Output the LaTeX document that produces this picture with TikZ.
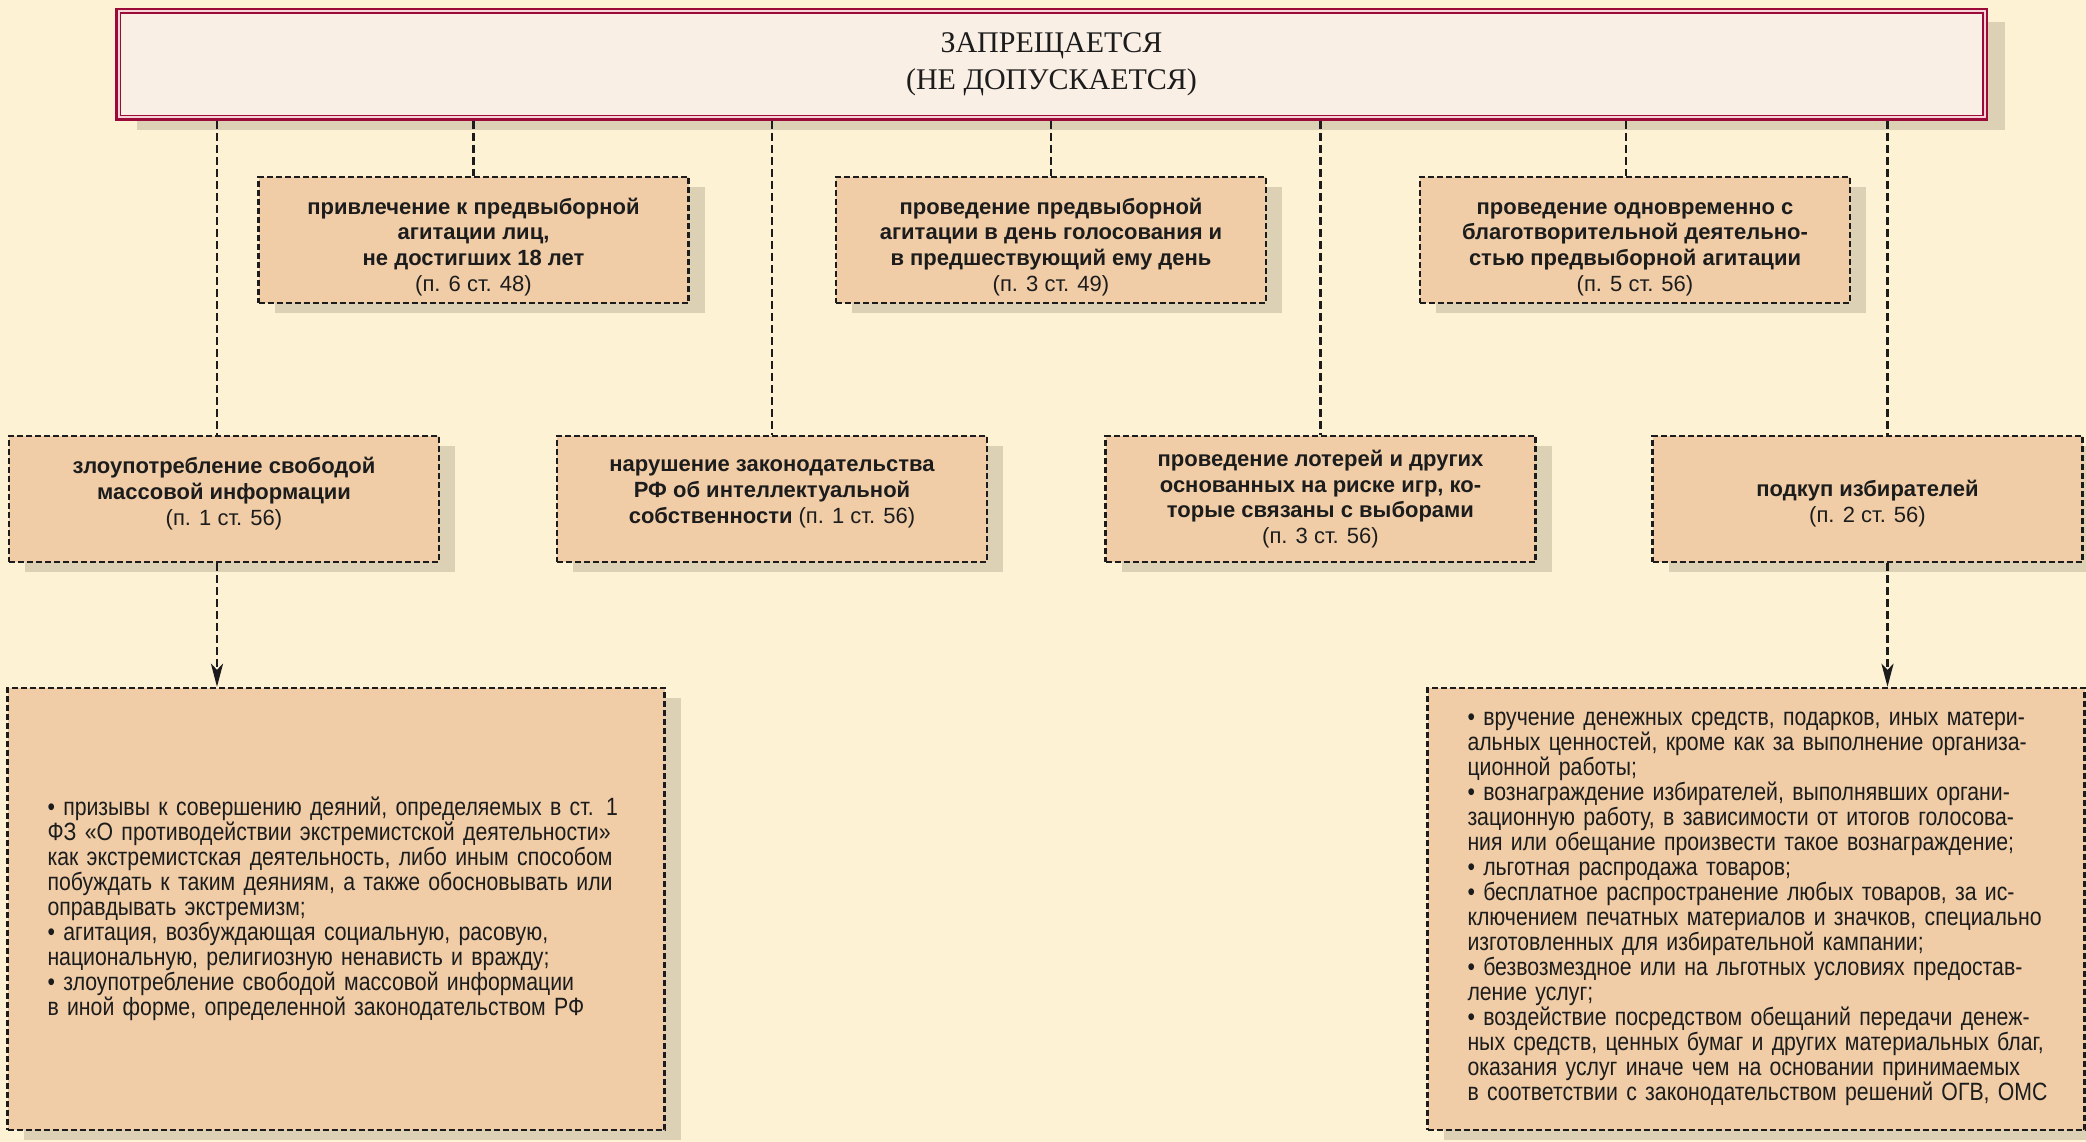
\documentclass[tikz,border=0pt]{standalone}
\usepackage{fontspec}
\setmainfont{Liberation Sans}
\newfontfamily\capsfont{Liberation Serif}
\newfontfamily\narrowfont[FakeStretch=0.85]{Liberation Sans}
\usetikzlibrary{arrows.meta,shadows}

\definecolor{paper}{HTML}{FEF2D4}
\definecolor{boxfill}{HTML}{F0CDA7}
\definecolor{shade}{HTML}{DCD1B4}
\definecolor{banfill}{HTML}{FAEFE5}
\definecolor{crimson}{HTML}{9C0A3A}
\definecolor{blush}{HTML}{F6D3D6}
\definecolor{ink}{HTML}{1C1C1C}

\newcommand{\stref}[1]{\textmd{(#1)}}
\newcommand{\jl}[1]{\makebox[577pt][s]{#1}}

\tikzset{
  banbox/.style={draw=crimson, line width=5pt, fill=banfill, minimum width=1868pt,
    minimum height=108pt, inner sep=0pt, align=center, text=ink,
    font=\capsfont\fontsize{30}{36.7}\selectfont,
    drop shadow={shadow xshift=19pt, shadow yshift=-12pt, fill=shade, opacity=1}},
  itembox/.style={draw=ink, fill=boxfill, line width=2.4pt, dash pattern=on 6pt off 3pt,
    minimum width=430pt, minimum height=126pt, inner sep=0pt, align=center, text=ink,
    font=\bfseries\fontsize{22}{25.8}\selectfont,
    drop shadow={shadow xshift=16pt, shadow yshift=-10pt, fill=shade, opacity=1}},
  listbox/.style={itembox, minimum width=657pt, minimum height=442pt, text width=577pt,
    align=left, font=\narrowfont\fontsize{25}{25}\selectfont},
  link/.style={draw=ink, line width=2.7pt, dash pattern=on 8pt off 4pt},
  feed/.style={link, -{Stealth[length=23pt, width=12pt, inset=6pt]}}
}

\begin{document}
\begin{tikzpicture}[x=1pt,y=-1pt]
\useasboundingbox (0,0) rectangle (2086,1142);
\fill[paper] (0,0) rectangle (2086,1142);

% head
\node[banbox] (ban) at (1051.5,64.5) {ЗАПРЕЩАЕТСЯ\\(НЕ ДОПУСКАЕТСЯ)};
\draw[blush, line width=2pt] ([shift={(3.5,3.5)}]ban.north west) rectangle ([shift={(-3.5,-3.5)}]ban.south east);
\draw[crimson, line width=1.5pt] ([shift={(5.5,5.5)}]ban.north west) rectangle ([shift={(-5.5,-5.5)}]ban.south east);

% first row
\node[itembox] (minors) at (473.5,240) {\rule{0pt}{30pt}привлечение к предвыборной\\агитации лиц,\\не достигших 18 лет\\\stref{п. 6 ст. 48}};
\node[itembox] (pollday) at (1051,240) {\rule{0pt}{30pt}проведение предвыборной\\агитации в день голосования и\\в предшествующий ему день\\\stref{п. 3 ст. 49}};
\node[itembox] (charity) at (1635,240) {\rule{0pt}{30pt}проведение одновременно с\\благотворительной деятельно-\\стью предвыборной агитации\\\stref{п. 5 ст. 56}};

% second row
\node[itembox] (media) at (224,499) {злоупотребление свободой\\массовой информации\\\stref{п. 1 ст. 56}\rule[-15pt]{0pt}{1pt}};
\node[itembox] (ip) at (772,499) {нарушение законодательства\\РФ об интеллектуальной\\собственности \stref{п. 1 ст. 56}\rule[-15pt]{0pt}{1pt}};
\node[itembox] (lottery) at (1320.5,499) {проведение лотерей и других\\основанных на риске игр, ко-\\торые связаны с выборами\\\stref{п. 3 ст. 56}};
\node[itembox] (bribe) at (1867.5,499) {\rule{0pt}{26pt}подкуп избирателей\\\stref{п. 2 ст. 56}};

% lists
\node[listbox] (mediaitems) at (336,909) {%
\jl{• призывы к совершению деяний, определяемых в ст. 1}\\
\jl{ФЗ «О противодействии экстремистской деятельности»}\\
\jl{как экстремистская деятельность, либо иным способом}\\
\jl{побуждать к таким деяниям, а также обосновывать или}\\
оправдывать экстремизм;\\
• агитация, возбуждающая социальную, расовую,\\
национальную, религиозную ненависть и вражду;\\
• злоупотребление свободой массовой информации\\
в иной форме, определенной законодательством РФ};
\node[listbox] (bribeitems) at (1756,909) {%
\jl{• вручение денежных средств, подарков, иных матери-}\\
\jl{альных ценностей, кроме как за выполнение организа-}\\
ционной работы;\\
\jl{• вознаграждение избирателей, выполнявших органи-}\\
\jl{зационную работу, в зависимости от итогов голосова-}\\
ния или обещание произвести такое вознаграждение;\\
• льготная распродажа товаров;\\
\jl{• бесплатное распространение любых товаров, за ис-}\\
\jl{ключением печатных материалов и значков, специально}\\
изготовленных для избирательной кампании;\\
\jl{• безвозмездное или на льготных условиях предостав-}\\
ление услуг;\\
\jl{• воздействие посредством обещаний передачи денеж-}\\
\jl{ных средств, ценных бумаг и других материальных благ,}\\
\jl{оказания услуг иначе чем на основании принимаемых}\\
\mbox{в соответствии с законодательством решений ОГВ, ОМС}};

\coordinate (mx) at ([xshift=-7pt]media.north);
\coordinate (cx) at ([xshift=-9pt]charity.north);
\coordinate (bx) at ([xshift=20pt]bribe.north);

\draw[link] (ban.south -| mx) -- (mx);
\draw[link] (ban.south -| minors.north) -- (minors.north);
\draw[link] (ban.south -| ip.north) -- (ip.north);
\draw[link] (ban.south -| pollday.north) -- (pollday.north);
\draw[link] (ban.south -| lottery.north) -- (lottery.north);
\draw[link] (ban.south -| cx) -- (cx);
\draw[link] (ban.south -| bx) -- (bx);
\draw[feed] (media.south -| mx) -- (mediaitems.north -| mx);
\draw[feed] (bribe.south -| bx) -- (bribeitems.north -| bx);
\end{tikzpicture}
\end{document}
